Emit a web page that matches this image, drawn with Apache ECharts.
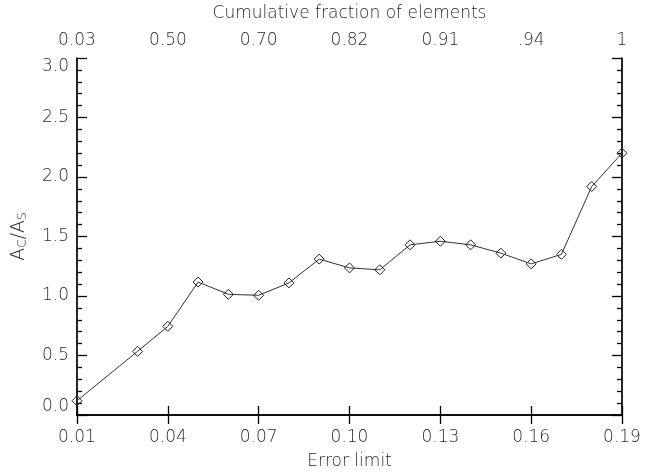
<!DOCTYPE html>
<html>
<head>
<meta charset="utf-8">
<script src="https://cdn.jsdelivr.net/npm/echarts@6/dist/echarts.min.js"></script>
<style>
html,body{margin:0;padding:0;background:#fff;}
#chart{width:645px;height:475px;}
</style>
</head>
<body>
<div id="chart"></div>
<script>
var errorLimits = [0.01, 0.03, 0.04, 0.05, 0.06, 0.07, 0.08, 0.09, 0.10, 0.11, 0.12, 0.13, 0.14, 0.15, 0.16, 0.17, 0.18, 0.19];
var ratioValues = [0.12, 0.535, 0.745, 1.117, 1.014, 1.006, 1.11, 1.31, 1.236, 1.22, 1.43, 1.46, 1.43, 1.36, 1.27, 1.35, 1.92, 2.20];
var topTickLabels = ['0.03', '0.50', '0.70', '0.82', '0.91', '.94', '1'];

var FONT = 'DejaVu Sans';
var TXT = '#2a2a2a';
var labelStyle = {fontFamily: FONT, fontSize: 17, fontWeight: 'lighter', color: TXT};

var chart = echarts.init(document.getElementById('chart'), null, {renderer: 'canvas'});

var axisLineStyle = {show: true, lineStyle: {color: '#000', width: 1.7}};

chart.setOption({
  animation: false,
  backgroundColor: '#fff',
  grid: {left: 77, right: 23, top: 57, bottom: 57, containLabel: false},
  xAxis: [
    {
      type: 'value', position: 'bottom', min: 0.01, max: 0.19, interval: 0.03,
      axisLine: axisLineStyle,
      axisTick: {show: true, inside: true, length: 9, lineStyle: {color: '#000', width: 1.3}},
      splitLine: {show: false},
      axisLabel: Object.assign({margin: 14, formatter: function (v) { return v.toFixed(2); }}, labelStyle),
      name: 'Error limit', nameLocation: 'middle', nameGap: 38,
      nameTextStyle: {fontFamily: FONT, fontSize: 17, fontWeight: 'lighter', color: TXT}
    },
    {
      type: 'value', position: 'top', min: 0.01, max: 0.19, interval: 0.03,
      axisLine: axisLineStyle,
      axisTick: {show: true, inside: true, length: 9, lineStyle: {color: '#000', width: 1.3}},
      splitLine: {show: false},
      axisLabel: Object.assign({margin: 9, formatter: function (v) {
        var i = Math.round((v - 0.01) / 0.03);
        return topTickLabels[i] !== undefined ? topTickLabels[i] : '';
      }}, labelStyle),
      name: 'Cumulative fraction of elements', nameLocation: 'middle', nameGap: 36,
      nameTextStyle: {fontFamily: FONT, fontSize: 17, fontWeight: 'lighter', color: TXT}
    }
  ],
  yAxis: [
    {
      type: 'value', position: 'left', min: 0, max: 3, interval: 0.5,
      axisLine: axisLineStyle,
      axisTick: {show: true, inside: true, length: 10, lineStyle: {color: '#000', width: 1.3}},
      minorTick: {show: true, splitNumber: 5, length: 5, lineStyle: {color: '#000', width: 1.3}},
      splitLine: {show: false},
      axisLabel: Object.assign({margin: 8, verticalAlignMaxLabel: 'top', verticalAlignMinLabel: 'bottom',
        formatter: function (v) { return v.toFixed(1); }}, labelStyle),
      name: '{a|A}{s|C}{a|/A}{s|S}', nameLocation: 'middle', nameGap: 48, nameRotate: 90,
      nameTextStyle: {
        fontFamily: FONT, fontSize: 18, color: TXT,
        rich: {
          a: {fontFamily: FONT, fontSize: 19, fontWeight: 'lighter', color: TXT},
          s: {fontFamily: FONT, fontSize: 12, fontWeight: 'lighter', color: TXT, verticalAlign: 'bottom', padding: [8, 0, 0, 0]}
        }
      }
    },
    {
      type: 'value', position: 'right', min: 0, max: 3, interval: 0.5,
      axisLine: axisLineStyle,
      axisTick: {show: true, inside: true, length: 10, lineStyle: {color: '#000', width: 1.3}},
      minorTick: {show: true, splitNumber: 5, length: 5, lineStyle: {color: '#000', width: 1.3}},
      splitLine: {show: false},
      axisLabel: {show: false}
    }
  ],
  series: [{
    type: 'line',
    xAxisIndex: 0, yAxisIndex: 0,
    data: errorLimits.map(function (x, i) { return [x, ratioValues[i]]; }),
    symbol: 'diamond', symbolSize: 10,
    lineStyle: {color: '#333', width: 1},
    itemStyle: {color: 'rgba(0,0,0,0)', borderColor: '#222', borderWidth: 1},
    clip: false
  }]
});
</script>
</body>
</html>
